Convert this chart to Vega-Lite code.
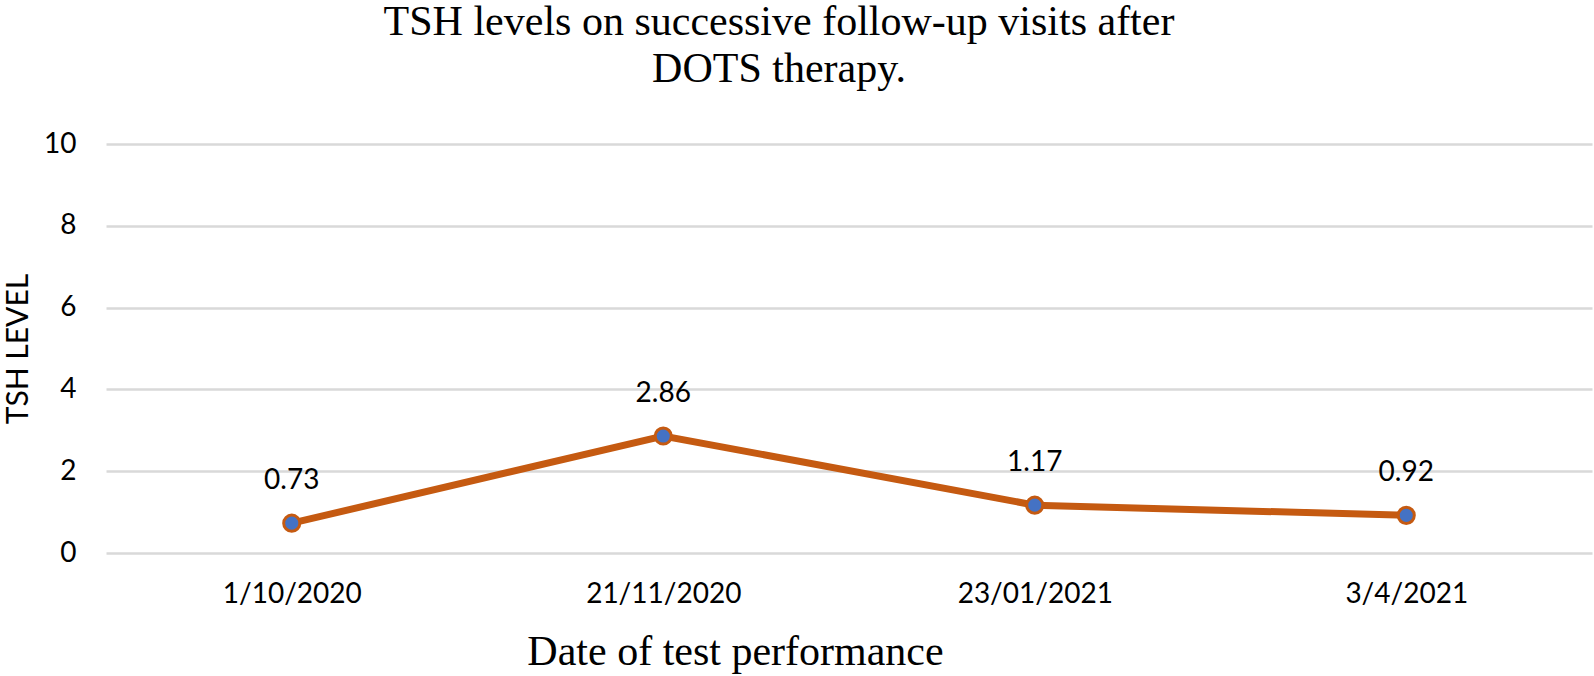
{
  "$schema": "https://vega.github.io/schema/vega-lite/v6.json",
  "autosize": "none",
  "width": 1486,
  "height": 409,
  "padding": {"left": 106, "top": 144, "right": 2, "bottom": 123},
  "background": "white",
  "title": {
    "text": ["TSH levels on successive follow-up visits after", "DOTS therapy."],
    "font": "Liberation Serif",
    "fontSize": 42,
    "fontWeight": "normal",
    "color": "#000000",
    "lineHeight": 47,
    "anchor": "middle",
    "dx": -70,
    "offset": 39
  },
  "data": {
    "values": [
      {"date": "1/10/2020", "tsh": 0.73},
      {"date": "21/11/2020", "tsh": 2.86},
      {"date": "23/01/2021", "tsh": 1.17},
      {"date": "3/4/2021", "tsh": 0.92}
    ]
  },
  "encoding": {
    "x": {
      "field": "date",
      "type": "ordinal",
      "sort": null,
      "scale": {"type": "point", "padding": 0.5},
      "axis": {
        "title": "Date of test performance",
        "titleFont": "Liberation Serif",
        "titleFontSize": 42,
        "titleFontWeight": "normal",
        "titleColor": "#000000",
        "titleX": 629,
        "titleY": 111,
        "titleAlign": "center",
        "titleBaseline": "alphabetic",
        "labelAngle": 0,
        "labelFont": "Lato",
        "labelFontSize": 28,
        "labelColor": "#000000",
        "labelPadding": 27,
        "domain": false,
        "ticks": false,
        "grid": false
      }
    },
    "y": {
      "field": "tsh",
      "type": "quantitative",
      "scale": {"domain": [0, 10]},
      "axis": {
        "title": "TSH LEVEL",
        "titleFont": "Lato",
        "titleFontSize": 30,
        "titleFontWeight": "normal",
        "titleColor": "#000000",
        "titleX": -88,
        "titleBaseline": "middle",
        "values": [0, 2, 4, 6, 8, 10],
        "labelFont": "Lato",
        "labelFontSize": 28,
        "labelColor": "#000000",
        "labelPadding": 30,
        "domain": false,
        "ticks": false,
        "grid": true,
        "gridColor": "#D9D9D9",
        "gridWidth": 2.5
      }
    }
  },
  "layer": [
    {
      "mark": {"type": "line", "color": "#C55A11", "strokeWidth": 7}
    },
    {
      "mark": {"type": "point", "filled": true, "fill": "#4472C4", "stroke": "#C55A11", "strokeWidth": 3, "size": 260, "shape": "circle", "opacity": 1}
    },
    {
      "mark": {"type": "text", "font": "Lato", "fontSize": 28, "color": "#000000", "dy": -42, "baseline": "middle"},
      "encoding": {"text": {"field": "tsh", "type": "quantitative", "format": ".2f"}}
    }
  ],
  "config": {"view": {"stroke": null}}
}
